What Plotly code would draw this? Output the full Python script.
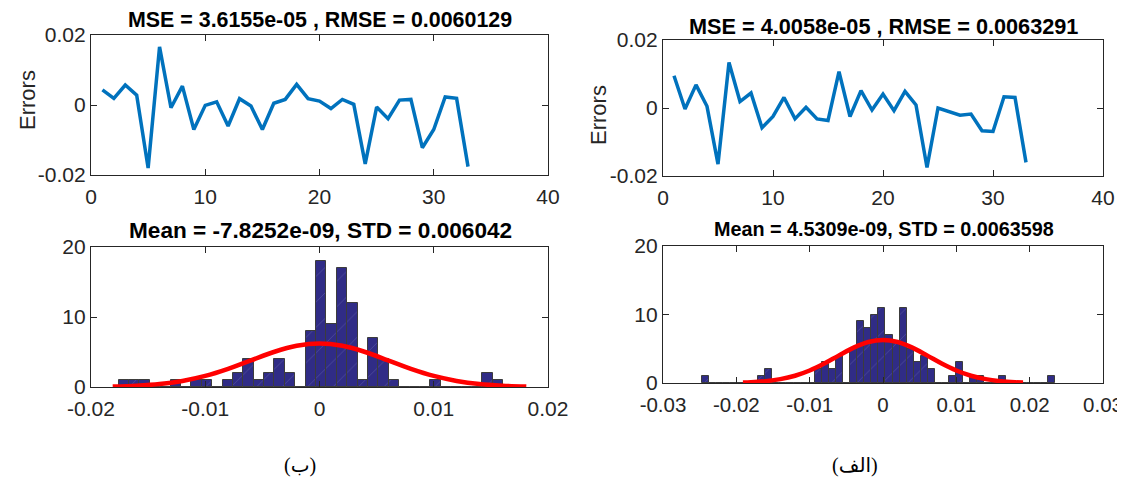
import plotly.graph_objects as go

# page body has an 8px margin: the figure is drawn at (8, 8) inside the 1125x483 window
OFF = 8
W, H = 1125 - OFF, 483 - OFF

# ---------------- data ----------------
sample_idx = list(range(1, 34))

# left panel (ب) and right panel (الف) error series
err_b = [0.0043, 0.0019, 0.0057, 0.0028, -0.0180, 0.0166, -0.0008, 0.0054, -0.0070, -0.0001,
         0.0009, -0.0060, 0.0018, -0.0003, -0.0070, 0.0005, 0.0016, 0.0059, 0.0018, 0.0011,
         -0.0010, 0.0016, 0.0002, -0.0168, -0.0006, -0.0039, 0.0014, 0.0016, -0.0122, -0.0070,
         0.0023, 0.0019, -0.0176]
err_a = [0.0095, -0.0003, 0.0068, 0.0005, -0.0165, 0.0134, 0.0019, 0.0044, -0.0058, -0.0025,
         0.0031, -0.0032, 0.0002, -0.0032, -0.0037, 0.0107, -0.0025, 0.0051, -0.0006, 0.0041,
         -0.0008, 0.0049, 0.0009, -0.0175, 0.0000, -0.0011, -0.0021, -0.0018, -0.0067, -0.0069,
         0.0033, 0.0031, -0.0160]

# histograms: first bin edge, bin width, counts per bin
hist_b_start = -0.01759
hist_b_width = 0.00091
hist_b_counts = [1, 1, 1, 0, 0, 1, 0, 1, 1, 0, 1, 2, 4, 1, 2, 4, 2, 0, 8, 18, 9, 17, 12, 1, 7, 4, 1,
                 0, 0, 0, 1, 0, 0, 0, 0, 2, 1]
hist_a_start = -0.02473
hist_a_width = 0.000964
hist_a_counts = [1, 0, 0, 0, 0, 0, 0, 0, 1, 2, 0, 0, 0, 0, 0, 0, 2, 3, 2, 4, 0, 5, 9, 8, 10, 11, 7,
                 6, 11, 5, 3, 4, 2, 0, 0, 1, 3, 0, 1, 1, 0, 0, 1, 0, 0, 0, 0, 0, 0, 1]

# fitted normal curves
fit_b_x = [-0.0181, -0.016, -0.014, -0.012, -0.010, -0.008, -0.006, -0.004, -0.002, 0.0,
           0.002, 0.004, 0.006, 0.008, 0.010, 0.012, 0.014, 0.016, 0.0181]
fit_b_y = [0.07, 0.19, 0.42, 0.87, 1.58, 2.59, 3.80, 5.00, 5.89, 6.22,
           5.89, 5.00, 3.80, 2.59, 1.58, 0.87, 0.42, 0.19, 0.07]
fit_a_x = [-0.0191, -0.018, -0.016, -0.014, -0.012, -0.010, -0.008, -0.006, -0.004, -0.002, 0.0,
           0.002, 0.004, 0.006, 0.008, 0.010, 0.012, 0.014, 0.016, 0.018, 0.0191]
fit_a_y = [0.07, 0.11, 0.27, 0.56, 1.06, 1.83, 2.85, 4.03, 5.16, 5.99, 6.29,
           5.99, 5.16, 4.03, 2.85, 1.83, 1.06, 0.56, 0.27, 0.11, 0.07]

title_b_top = "MSE = 3.6155e-05 , RMSE = 0.0060129"
title_a_top = "MSE = 4.0058e-05 , RMSE = 0.0063291"
title_b_bot = "Mean = -7.8252e-09, STD = 0.006042"
title_a_bot = "Mean = 4.5309e-09, STD = 0.0063598"
caption_b = "(ب)"
caption_a = "(الف)"
ylabel = "Errors"

# ---------------- layout helpers (window pixel coords -> paper) ----------------
def px(x):
    return (x - OFF) / W

def py(y):
    return 1 - (y - OFF) / H

def xd(x0, x1):
    return [px(x0), px(x1)]

def yd(top, bottom):
    return [py(bottom), py(top)]

AX = "#262626"
FONT = "Liberation Sans, Arial, sans-serif"
BAR = "#302C86"

def centers(start, width, counts):
    return [start + (i + 0.5) * width for i in range(len(counts))]

fig = go.Figure()

fig.add_trace(go.Scatter(x=sample_idx, y=err_b, mode="lines",
                         line=dict(color="#0072BD", width=3.5), xaxis="x", yaxis="y"))
fig.add_trace(go.Scatter(x=sample_idx, y=err_a, mode="lines",
                         line=dict(color="#0072BD", width=3.5), xaxis="x2", yaxis="y2"))

bar_marker = dict(color=BAR, line=dict(color="#3C3C3C", width=1),
                  pattern=dict(shape="/", fgcolor="rgba(190,190,235,0.4)", size=18, solidity=0.05))

fig.add_trace(go.Bar(x=centers(hist_b_start, hist_b_width, hist_b_counts), y=hist_b_counts,
                     width=hist_b_width, marker=bar_marker, xaxis="x3", yaxis="y3"))
fig.add_trace(go.Bar(x=centers(hist_a_start, hist_a_width, hist_a_counts), y=hist_a_counts,
                     width=hist_a_width, marker=bar_marker, xaxis="x4", yaxis="y4"))

fig.add_trace(go.Scatter(x=fit_b_x, y=fit_b_y, mode="lines",
                         line=dict(color="#FF0000", width=4.5, shape="spline"), xaxis="x3", yaxis="y3"))
fig.add_trace(go.Scatter(x=fit_a_x, y=fit_a_y, mode="lines",
                         line=dict(color="#FF0000", width=4.5, shape="spline"), xaxis="x4", yaxis="y4"))

def axis(domain, rng, tickvals, ticktext, anchor, size=21, standoff=None):
    d = dict(domain=domain, range=rng, tickvals=tickvals, ticktext=ticktext, anchor=anchor,
             showline=True, linecolor=AX, linewidth=1.3, mirror="allticks",
             ticks="inside", ticklen=6, tickwidth=1.3, tickcolor=AX,
             showgrid=False, zeroline=False, fixedrange=True, automargin=False,
             tickfont=dict(family=FONT, size=size, color=AX))
    if standoff is not None:
        d["ticklabelstandoff"] = standoff
    return d

fig.update_layout(
    width=W, height=H, margin=dict(l=0, r=0, t=0, b=0, autoexpand=False),
    paper_bgcolor="white", plot_bgcolor="white", showlegend=False, bargap=0,
    xaxis=axis(xd(91, 548), [0, 40], [0, 10, 20, 30, 40], ["0", "10", "20", "30", "40"], "y", standoff=3),
    yaxis=axis(yd(35, 175), [-0.02, 0.02], [-0.02, 0, 0.02], ["-0.02", "0", "0.02"], "x"),
    xaxis2=axis(xd(663, 1103), [0, 40], [0, 10, 20, 30, 40], ["0", "10", "20", "30", "40"], "y2", standoff=3),
    yaxis2=axis(yd(40, 176), [-0.02, 0.02], [-0.02, 0, 0.02], ["-0.02", "0", "0.02"], "x2"),
    xaxis3=axis(xd(91, 548), [-0.02, 0.02], [-0.02, -0.01, 0, 0.01, 0.02],
                ["-0.02", "-0.01", "0", "0.01", "0.02"], "y3", standoff=3),
    yaxis3=axis(yd(247, 387), [0, 20], [0, 10, 20], ["0", "10", "20"], "x3"),
    xaxis4=axis(xd(663, 1103), [-0.03, 0.03], [-0.03, -0.02, -0.01, 0, 0.01, 0.02, 0.03],
                ["-0.03", "-0.02", "-0.01", "0", "0.01", "0.02", "0.03"], "y4", size=20.5, standoff=3),
    yaxis4=axis(yd(246, 383), [0, 20], [0, 10, 20], ["0", "10", "20"], "x4"),
)

def ann(text, x, y, size, bold=False, angle=0, family=FONT, color="black"):
    fig.add_annotation(text=f"<b>{text}</b>" if bold else text, x=px(x), y=py(y),
                       xref="paper", yref="paper", showarrow=False, textangle=angle,
                       xanchor="center", yanchor="middle", borderpad=0,
                       font=dict(family=family, size=size, color=color))

ann(title_b_top, 320, 20, 21.4, bold=True)
ann(title_a_top, 883, 26, 21.7, bold=True)
ann(title_b_bot, 320, 231, 22.6, bold=True)
ann(title_a_bot, 884, 229, 19.8, bold=True)
ann(ylabel, 27, 100, 22, angle=-90, color=AX)
ann(ylabel, 598, 115, 22, angle=-90, color=AX)
SERIF = "Liberation Serif, Times New Roman, DejaVu Sans, serif"
ann(caption_b, 300, 465, 20, family=SERIF)
ann(caption_a, 855, 465, 20, family=SERIF)

fig.write_html("out.html")
